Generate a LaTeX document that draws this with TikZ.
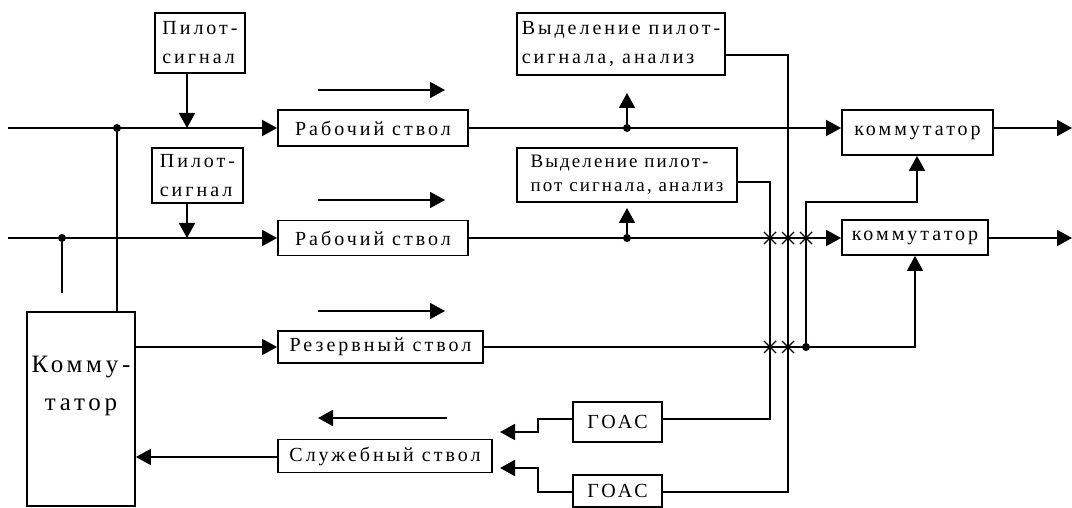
\documentclass[tikz,border=0pt]{standalone}
\usepackage{fontspec}
\setmainfont{Liberation Serif}[LetterSpace=15]
\usetikzlibrary{arrows.meta}
\begin{document}
\begin{tikzpicture}[x=1pt,y=-1pt,line width=1.8pt,
  font=\fontsize{20}{29}\selectfont,
  box/.style={draw,line width=1.8pt,inner sep=2pt},
  arr/.style={-{Triangle[length=15pt,width=16pt]}},
  dotc/.style={fill,circle,inner sep=0pt,minimum size=8pt},
  star/.style={line width=1.4pt}]
\useasboundingbox (0,0) rectangle (1072,508);
% boxes
\node[box,minimum width=90pt,minimum height=60pt,align=left] (pil1) at (200,43) {Пилот-\\сигнал};
\node[box,minimum width=91pt,minimum height=55pt,align=left] (pil2) at (197.5,175.5) {Пилот-\\сигнал};
\node[box,minimum width=190pt,minimum height=36pt] (rab1) at (373,128) {Рабочий ствол};
\node[box,minimum width=190pt,minimum height=35pt] (rab2) at (373,238) {Рабочий ствол};
\node[box,minimum width=205pt,minimum height=32pt] (rez) at (380.5,347) {Резервный ствол};
\node[box,minimum width=214pt,minimum height=33pt] (sl) at (385,456) {Служебный ствол};
\node[box,minimum width=108pt,minimum height=194pt] (km) at (81,409) {};
\node[font=\fontsize{25}{38}\selectfont,align=center] (kmt) at (81,386) {Комму-\\татор};
\node[box,minimum width=208pt,minimum height=62pt,align=left] (v1) at (621,44) {Выделение пилот-\\сигнала, анализ};
\node[box,minimum width=220pt,minimum height=54pt,align=left,font=\fontsize{19}{24}\selectfont\addfontfeatures{LetterSpace=11},inner sep=1pt] (v2) at (627,175) {Выделение пилот-\\пот сигнала, анализ};
\node[box,minimum width=151pt,minimum height=45pt] (k1) at (917.5,132.5) {коммутатор};
\node[box,minimum width=146pt,minimum height=35pt] (k2) at (915,237.5) {коммутатор};
\node[box,minimum width=89pt,minimum height=40pt] (g1) at (617.5,422) {ГОАС};
\node[box,minimum width=89pt,minimum height=32pt] (g2) at (617.5,491) {ГОАС};
% coordinates
\coordinate (l1) at (8,128);
\coordinate (l2) at (8,238);
\coordinate (d1) at (117,128);
\coordinate (d2) at (62,238);
\coordinate (e2) at (62,293);
\coordinate (p1) at (187,128);
\coordinate (p2) at (187,238);
\coordinate (u1) at (627,128);
\coordinate (t1) at (627,93);
\coordinate (u2) at (627,238);
\coordinate (t2) at (627,208);
\coordinate (r3) at (806,347);
\coordinate (c1) at (770,238);
\coordinate (c2) at (788,238);
\coordinate (c3) at (806,238);
\coordinate (c4) at (770,347);
\coordinate (c5) at (788,347);
% flow arrows
\coordinate (f1a) at (318,90);  \coordinate (f1b) at (445,90);
\coordinate (f2a) at (318,200); \coordinate (f2b) at (445,200);
\coordinate (f3a) at (318,311); \coordinate (f3b) at (445,311);
\coordinate (f4a) at (447,418); \coordinate (f4b) at (318,418);
\draw[arr] (f1a) -- (f1b);
\draw[arr] (f2a) -- (f2b);
\draw[arr] (f3a) -- (f3b);
\draw[arr] (f4a) -- (f4b);
% inputs
\draw[arr] (l1) -- (rab1.west);
\draw[arr] (l2) -- (rab2.west);
\draw (d1) -- (d1 |- km.north);
\draw (d2) -- (e2);
\draw[arr] (pil1.south -| p1) -- (p1);
\draw[arr] (pil2.south -| p2) -- (p2);
% main lines
\draw[arr] (rab1.east) -- (k1.west |- rab1.east);
\draw[arr] (rab2.east) -- (k2.west |- rab2.east);
\draw[arr] (u1) -- (t1);
\draw[arr] (u2) -- (t2);
\draw[arr] (rez.east) -- (915,347) -- (k2.south -| 915,0);
\draw[arr] (r3) -- (806,202) -- (917,202) -- (k1.south -| 917,0);
\draw[arr] (k1.east |- l1) -- (1072,128);
\draw[arr] (k2.east |- 0,238) -- (1072,238);
% feedback lines
\draw (v1.east |- 0,55) -- (788,55) -- (788,492) -- (g2.east |- 0,492);
\draw (v2.east |- 0,182) -- (770,182) -- (770,419) -- (g1.east |- 0,419);
\draw[arr] (g1.west |- 0,419) -- (538,419) -- (538,432) -- (500,432);
\draw[arr] (g2.west |- 0,492) -- (538,492) -- (538,468) -- (500,468);
% commutator links
\draw[arr] (km.east |- rez.west) -- (rez.west);
\draw[arr] (sl.west |- 0,457) -- (km.east |- 0,457);
% dots
\foreach \p in {d1,d2,u1,u2,r3} \node[dotc] at (\p) {};
% stars
\foreach \p in {c1,c2,c3,c4,c5}
  \draw[star] ([shift={(-6,-6)}]\p) -- ([shift={(6,6)}]\p)
              ([shift={(-6,6)}]\p) -- ([shift={(6,-6)}]\p);
\end{tikzpicture}
\end{document}
